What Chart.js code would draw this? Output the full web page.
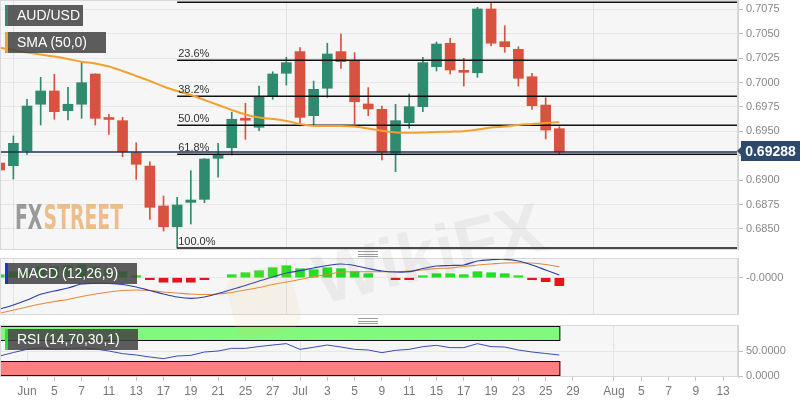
<!DOCTYPE html>
<html>
<head>
<meta charset="utf-8">
<script src="https://cdn.jsdelivr.net/npm/chart.js@4.4.1/dist/chart.umd.min.js"></script>
<style>
  body { margin: 0; background: #fff; font-family: Arial, 'Liberation Sans', sans-serif; }
  #wrap { position: relative; width: 808px; height: 403px; overflow: hidden; }
  #wrap canvas { position: absolute; left: 0; }
  .tag { position: absolute; left: 5px; height: 21px; line-height: 21px; box-sizing: border-box; padding-left: 12px;
         background: rgba(66,66,66,0.86); color: #fff; font-size: 14px; white-space: nowrap; }
  .tag::before { content: ''; position: absolute; left: 0; top: 0; bottom: 0; width: 3px; background: var(--c); }
  .grip { position: absolute; left: 358px; width: 20px; height: 4px; border-top: 1px solid #9a9a9a; border-bottom: 1px solid #9a9a9a; }
  .grip::after { content: ''; position: absolute; left: 0; right: 0; top: 1.5px; border-top: 1px solid #9a9a9a; }
</style>
</head>
<body>
<div id="wrap">
  <canvas id="main" width="808" height="250" style="top:0"></canvas>
  <canvas id="macd" width="808" height="57" style="top:258px"></canvas>
  <canvas id="rsi" width="808" height="83" style="top:320px"></canvas>
  <canvas id="wm" width="808" height="403" style="top:0;pointer-events:none"></canvas>
  <div class="tag" style="top:5px;width:78px;--c:#2e8b74">AUD/USD</div>
  <div class="tag" style="top:32px;width:101px;--c:#f2a12e">SMA (50,0)</div>
  <div class="tag" style="top:263px;width:132px;--c:#1a36d0">MACD (12,26,9)</div>
  <div class="tag" style="top:329px;width:133px;--c:#2ee02e">RSI (14,70,30,1)</div>
  <div class="grip" style="top:251px"></div>
  <div class="grip" style="top:318px"></div>
</div>
<script>
// daily candles, first one sits two bars before the "Jun" tick
const firstBar = -2;
const opens  = [0.69175, 0.69148, 0.69298, 0.69777, 0.69913, 0.69711, 0.69777, 0.70087, 0.69633, 0.69609,
                0.69281, 0.69144, 0.68735, 0.68522, 0.68772, 0.68803, 0.69223, 0.69332, 0.69626, 0.69541,
                0.69865, 0.70094, 0.70316, 0.69660, 0.69941, 0.70316, 0.70223, 0.69780, 0.69725, 0.69275,
                0.69588, 0.69752, 0.70162, 0.70402, 0.70110, 0.70100, 0.70753, 0.70418, 0.70340, 0.70059,
                0.69769, 0.69527];
const highs  = [0.69380, 0.69452, 0.69828, 0.70053, 0.70084, 0.69951, 0.70213, 0.70090, 0.69674, 0.69643,
                0.69383, 0.69188, 0.68837, 0.68824, 0.69096, 0.69220, 0.69377, 0.69695, 0.69787, 0.69964,
                0.70110, 0.70258, 0.70357, 0.70015, 0.70402, 0.70497, 0.70306, 0.69947, 0.69759, 0.69777,
                0.69882, 0.70258, 0.70415, 0.70453, 0.70248, 0.70770, 0.70822, 0.70582, 0.70367, 0.70094,
                0.69844, 0.69547];
const lows   = [0.68980, 0.69011, 0.69264, 0.69565, 0.69623, 0.69616, 0.69633, 0.69565, 0.69469, 0.69240,
                0.69008, 0.68598, 0.68478, 0.68304, 0.68550, 0.68769, 0.69029, 0.69257, 0.69418, 0.69506,
                0.69828, 0.69974, 0.69554, 0.69565, 0.69848, 0.70145, 0.69575, 0.69660, 0.69206, 0.69086,
                0.69531, 0.69701, 0.70118, 0.70087, 0.69964, 0.70053, 0.70374, 0.70310, 0.69964, 0.69725,
                0.69421, 0.69267];
const closes = [0.69104, 0.69377, 0.69759, 0.69913, 0.69701, 0.69777, 0.69998, 0.69633, 0.69621, 0.69291,
                0.69162, 0.68721, 0.68522, 0.68745, 0.68796, 0.69216, 0.69264, 0.69623, 0.69613, 0.69855,
                0.70087, 0.70203, 0.69643, 0.69930, 0.70292, 0.70213, 0.69803, 0.69729, 0.69285, 0.69609,
                0.69752, 0.70203, 0.70394, 0.70128, 0.70104, 0.70753, 0.70402, 0.70367, 0.70043, 0.69762,
                0.69513, 0.69288];
const sma50  = [0.70357, 0.70333, 0.70307, 0.70287, 0.70266, 0.70241, 0.70213, 0.70195, 0.70164, 0.70118,
                0.70067, 0.70015, 0.69959, 0.69913, 0.69872, 0.69821, 0.69770, 0.69718, 0.69672, 0.69641,
                0.69626, 0.69606, 0.69575, 0.69554, 0.69554, 0.69554, 0.69549, 0.69529, 0.69506, 0.69488,
                0.69486, 0.69488, 0.69493, 0.69496, 0.69500, 0.69518, 0.69539, 0.69549, 0.69565, 0.69575,
                0.69585, 0.69595];

const macdLine   = [-0.00313, -0.00273, -0.00223, -0.00166, -0.00133, -0.00103, -0.00063, -0.00056, -0.00058, -0.00068,
                    -0.00093, -0.00128, -0.00163, -0.00193, -0.00206, -0.00193, -0.00158, -0.00118, -0.00078, -0.00033,
                     0.00007,  0.00047,  0.00070,  0.00097,  0.00122,  0.00137,  0.00122,  0.00092,  0.00067,  0.00057,
                     0.00060,  0.00092,  0.00117,  0.00122,  0.00127,  0.00167,  0.00180,  0.00184,  0.00167,  0.00127,
                     0.00077,  0.00027];
const signalLine = [-0.00356, -0.00323, -0.00293, -0.00263, -0.00238, -0.00218, -0.00188, -0.00163, -0.00143, -0.00128,
                    -0.00123, -0.00128, -0.00143, -0.00153, -0.00163, -0.00168, -0.00163, -0.00148, -0.00123, -0.00098,
                    -0.00068, -0.00043, -0.00018,  0.00010,  0.00032,  0.00057,  0.00060,  0.00060,  0.00060,  0.00060,
                     0.00067,  0.00077,  0.00092,  0.00097,  0.00112,  0.00127,  0.00137,  0.00147,  0.00150,  0.00147,
                     0.00132,  0.00110];
const macdHist   = [0.0003, 0.0006, 0.0008, 0.0011, 0.0011, 0.0012, 0.0013, 0.0011, 0.0008, 0.0006,
                    0.0002, -0.00005, -0.00045, -0.00045, -0.00045, -0.0001, null, 0.0003, 0.0005, 0.0007,
                    0.0010, 0.0012, 0.0009, 0.0008, 0.0010, 0.0009, 0.0006, 0.0004, null, -0.0001,
                    -0.0001, 0.0002, 0.0004, 0.0004, 0.0003, 0.0006, 0.0005, 0.0004, 0.00015, -0.0001,
                    -0.0004, -0.0008];
const rsi14      = [40, 47, 53.3, 56.5, 53.5, 55, 56.5, 54, 50, 44.7,
                    42, 38, 34.7, 40, 41.3, 48, 50, 55.3, 55.3, 59,
                    62, 64.7, 53.3, 57.5, 62, 58, 53.3, 52, 46.7, 51.3,
                    53.3, 58.7, 61.3, 56.7, 56.7, 64.7, 58.7, 58, 52, 48,
                    45, 42];

const fibRatios = [0, 0.236, 0.382, 0.5, 0.618, 1];
const fibLabels = ['', '23.6%', '38.2%', '50.0%', '61.8%', '100.0%'];
const priceTicks = [0.6850, 0.6875, 0.6900, 0.6925, 0.6950, 0.6975, 0.7000, 0.7025, 0.7050, 0.7075];
const dateTickPos  = [0, 2, 4, 6, 8, 10, 12, 14, 16, 18, 20, 22, 24, 26, 28, 30, 32, 34, 36, 38, 40, 43, 45, 47, 49, 51];
const dateTickText = ['Jun', '5', '7', '11', '13', '17', '19', '21', '25', '27', 'Jul', '3', '5', '9', '11', '15',
                      '17', '19', '23', '25', '29', 'Aug', '5', '7', '9', '13'];
const monthTickPos = [0, 20, 43];

const FONT = "Arial, 'Liberation Sans', sans-serif";
const UP = '#2e8b6f', DOWN = '#d8533f';
const X_MIN = -1.98, X_MAX = 52.09;
const AXIS_W = 70;

const xs = closes.map((_, i) => i + firstBar);
const candleColors = closes.map((c, i) => c >= opens[i] ? UP : DOWN);
const lastX = xs[xs.length - 1];
const lastClose = closes[closes.length - 1];
const swingHigh = Math.max(...highs);
const swingLow = Math.min(...lows);
const fibStart = xs[lows.indexOf(swingLow)];
const fibLevels = fibRatios.map(r => swingHigh - r * (swingHigh - swingLow));

function xAxis(showLabels) {
  return {
    type: 'linear', min: X_MIN, max: X_MAX, offset: false,
    afterBuildTicks: s => { s.ticks = dateTickPos.map(v => ({ value: v })); },
    afterFit: s => { s.paddingLeft = 0; s.paddingRight = 0; s.height = showLabels ? 26 : 0; },
    ticks: {
      display: showLabels, autoSkip: false, maxRotation: 0, color: '#777', padding: 3,
      font: { family: FONT, size: 12 },
      callback: v => dateTickText[dateTickPos.indexOf(v)] ?? ''
    },
    grid: {
      drawTicks: showLabels, tickLength: 4, tickColor: '#c4c4c4',
      color: c => (c.tick && monthTickPos.includes(c.tick.value)) ? '#e1e1e1' : 'rgba(0,0,0,0)'
    },
    border: { display: false }
  };
}

function yAxis(min, max, ticks, fmt) {
  return {
    position: 'right', min, max,
    afterBuildTicks: s => { s.ticks = ticks.map(v => ({ value: v })); },
    afterFit: s => { s.width = AXIS_W; s.paddingTop = 0; s.paddingBottom = 0; },
    ticks: { color: '#888', padding: 3, font: { family: FONT, size: 11 }, callback: fmt },
    grid: { color: '#e7e7e7', tickLength: 5, tickColor: '#bbb' },
    border: { color: '#d2d2d2' }
  };
}

const panelBg = {
  id: 'panelBg',
  beforeDraw(chart) {
    const { ctx, chartArea: a } = chart;
    ctx.save();
    ctx.fillStyle = '#f6f6f6';
    ctx.fillRect(a.left, a.top, a.right - a.left, a.bottom - a.top);
    ctx.restore();
  },
  afterDraw(chart) {
    const { ctx, chartArea: a } = chart;
    ctx.save();
    ctx.strokeStyle = '#d8d8d8';
    ctx.lineWidth = 1;
    ctx.strokeRect(a.left + 0.5, a.top + 0.5, a.right - a.left - 1, a.bottom - a.top - 1);
    ctx.restore();
  }
};

const baseOpts = {
  responsive: false,
  animation: false,
  events: [],
  layout: { padding: 0 },
  plugins: { legend: { display: false }, tooltip: { enabled: false } }
};

// ---------- main price panel ----------
const fxLogo = {
  id: 'fxLogo',
  beforeDatasetsDraw(chart) {
    const ctx = chart.ctx;
    ctx.save();
    ctx.font = `bold 33px 'Liberation Sans Narrow', 'DejaVu Sans Condensed', ${FONT}`;
    ctx.textBaseline = 'alphabetic';
    const wFx = ctx.measureText('FX').width;
    const wSt = ctx.measureText('STREET').width;
    ctx.translate(15, 229);
    ctx.scale(108 / (wFx + wSt + 2), 1);
    ctx.fillStyle = 'rgba(128,128,128,0.78)';
    ctx.fillText('FX', 0, 0);
    ctx.fillStyle = 'rgba(232,168,95,0.72)';
    ctx.fillText('STREET', wFx + 2, 0);
    ctx.restore();
  }
};

const fibText = {
  id: 'fibText',
  afterDatasetsDraw(chart) {
    const { ctx, scales: { x, y } } = chart;
    ctx.save();
    ctx.font = `11px ${FONT}`;
    ctx.fillStyle = '#333';
    ctx.textBaseline = 'bottom';
    const px = x.getPixelForValue(fibStart) + 1;
    fibLevels.forEach((lvl, i) => {
      if (fibLabels[i]) ctx.fillText(fibLabels[i], px, y.getPixelForValue(lvl) - 1);
    });
    ctx.restore();
  }
};

const priceTag = {
  id: 'priceTag',
  afterDraw(chart) {
    const { ctx, chartArea: a, scales: { y } } = chart;
    const cy = Math.round(y.getPixelForValue(lastClose)) - 1;
    ctx.save();
    ctx.fillStyle = '#2d4a6d';
    ctx.fillRect(a.right + 3, cy - 10, 59, 20);
    ctx.beginPath();
    ctx.moveTo(a.right - 1, cy);
    ctx.lineTo(a.right + 3, cy - 4);
    ctx.lineTo(a.right + 3, cy + 4);
    ctx.closePath();
    ctx.fill();
    ctx.fillStyle = '#fff';
    ctx.font = `bold 14px ${FONT}`;
    ctx.textAlign = 'center';
    ctx.textBaseline = 'middle';
    ctx.fillText(lastClose.toFixed(5), a.right + 32.5, cy + 1);
    ctx.restore();
  }
};

const mainDatasets = [
  {
    type: 'bar', data: xs.map((x, i) => ({ x, y: [lows[i], highs[i]] })),
    backgroundColor: candleColors, barThickness: 1, grouped: false, order: 5
  },
  {
    type: 'bar', data: xs.map((x, i) => ({ x, y: [opens[i], closes[i]] })),
    backgroundColor: candleColors, barThickness: 10, minBarLength: 2, grouped: false, order: 4
  },
  {
    type: 'line', data: [{ x: X_MIN, y: lastClose }, { x: X_MAX, y: lastClose }],
    borderColor: '#1e3354', borderWidth: 1.3, pointRadius: 0, order: 3
  },
  ...fibLevels.map(lvl => ({
    type: 'line', data: [{ x: fibStart, y: lvl }, { x: X_MAX, y: lvl }],
    borderColor: '#111', borderWidth: 1.5, pointRadius: 0, order: 2
  })),
  {
    type: 'line', data: xs.map((x, i) => ({ x, y: sma50[i] })),
    borderColor: '#f2a12e', borderWidth: 2, pointRadius: 0, cubicInterpolationMode: 'monotone', order: 1
  }
];

new Chart(document.getElementById('main'), {
  type: 'bar',
  data: { datasets: mainDatasets },
  options: {
    ...baseOpts,
    scales: {
      x: xAxis(false),
      y: yAxis(0.68284, 0.70845, priceTicks, v => v.toFixed(4))
    }
  },
  plugins: [panelBg, fxLogo, fibText, priceTag]
});

// ---------- MACD panel ----------
new Chart(document.getElementById('macd'), {
  type: 'bar',
  data: {
    datasets: [
      {
        type: 'bar',
        data: xs.map((x, i) => ({ x, y: macdHist[i] })).filter(d => d.y !== null),
        backgroundColor: macdHist.filter(v => v !== null).map(v => v >= 0 ? '#22e022' : '#e3151a'),
        barThickness: 9, minBarLength: 2, grouped: false, order: 3
      },
      {
        type: 'line', data: xs.map((x, i) => ({ x, y: signalLine[i] })),
        borderColor: '#e58a3c', borderWidth: 1.1, pointRadius: 0, tension: 0.3, order: 2
      },
      {
        type: 'line', data: xs.map((x, i) => ({ x, y: macdLine[i] })),
        borderColor: '#2b3fa8', borderWidth: 1.2, pointRadius: 0, tension: 0.3, order: 1
      }
    ]
  },
  options: {
    ...baseOpts,
    scales: {
      x: xAxis(false),
      y: yAxis(-0.00373, 0.00197, [0], () => '-0.0000')
    }
  },
  plugins: [panelBg]
});

// ---------- RSI panel ----------
const rsiBands = {
  id: 'rsiBands',
  beforeDatasetsDraw(chart) {
    const { ctx, scales: { x, y } } = chart;
    const l = x.getPixelForValue(X_MIN);
    const r = x.getPixelForValue(lastX) + 1;
    ctx.save();
    ctx.lineWidth = 1;
    ctx.strokeStyle = '#111';
    [[70, 100, '#80f97c'], [0, 30, '#fd7f7f']].forEach(([lo, hi, col]) => {
      const t = Math.round(y.getPixelForValue(hi));
      const b = Math.round(y.getPixelForValue(lo));
      ctx.fillStyle = col;
      ctx.fillRect(l, t, r - l, b - t);
      ctx.strokeRect(l - 1 + 0.5, t + 0.5, r - l, b - t - 1);
    });
    ctx.restore();
  }
};

new Chart(document.getElementById('rsi'), {
  type: 'line',
  data: {
    datasets: [{
      data: xs.map((x, i) => ({ x, y: rsi14[i] })),
      borderColor: '#3a4db3', borderWidth: 1, pointRadius: 0, tension: 0
    }]
  },
  options: {
    ...baseOpts,
    layout: { padding: { top: 5 } },
    scales: {
      x: xAxis(true),
      y: yAxis(-2, 102, [0, 50], v => v.toFixed(4))
    }
  },
  plugins: [panelBg, rsiBands]
});

// ---------- faint site watermark ----------
const wm = document.getElementById('wm').getContext('2d');
wm.save();
wm.translate(430, 258);
wm.rotate(-0.24);
wm.fillStyle = 'rgba(235,190,105,0.11)';
wm.beginPath();
wm.roundRect(-205, -30, 66, 66, 14);
wm.fill();
wm.font = `bold 70px ${FONT}`;
wm.textAlign = 'center';
wm.textBaseline = 'middle';
wm.fillStyle = 'rgba(80,80,80,0.065)';
wm.fillText('WikiFX', 0, 0);
wm.restore();
</script>
</body>
</html>
